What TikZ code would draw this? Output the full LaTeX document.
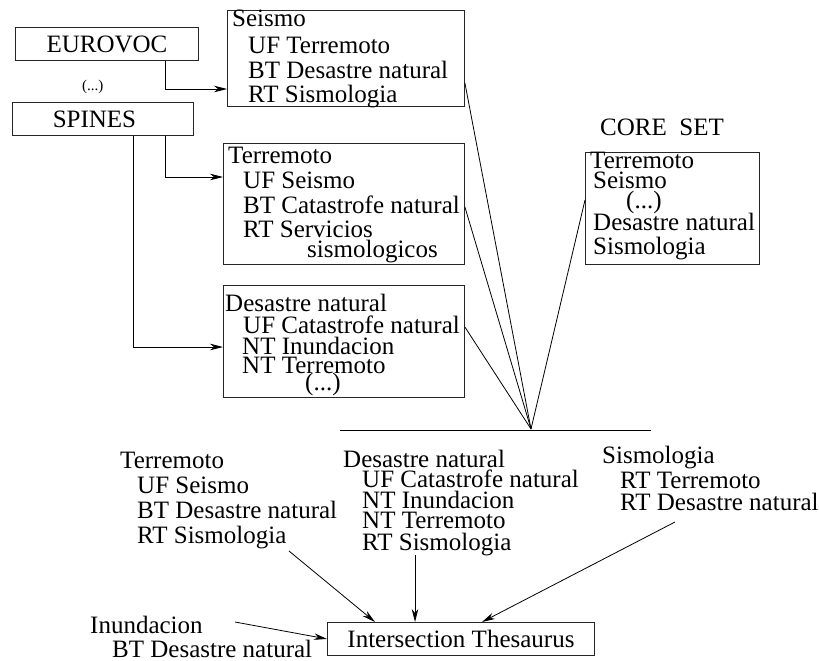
\documentclass[tikz,border=0pt]{standalone}
\usepackage{fontspec}
\setmainfont{Liberation Serif}
\usetikzlibrary{arrows.meta,calc}
\begin{document}
\begin{tikzpicture}[x=1pt,y=-1pt]
\tikzset{
  box/.style={draw=black!85, line width=0.9pt, inner sep=0pt, anchor=north west, font=\fontsize{25}{30}\selectfont},
  ln/.style={anchor=base west, inner sep=0pt, text height=15pt, text depth=3pt, font=\fontsize{25}{30}\selectfont},
  small/.style={anchor=base west, inner sep=0pt, font=\fontsize{15}{18}\selectfont},
  con/.style={line width=0.8pt},
  arr/.style={con, -{Stealth[length=13pt,width=6.5pt,inset=4pt]}},
}
\useasboundingbox (0,0) rectangle (819,661);

% source boxes
\node[box, minimum width=183pt, minimum height=33pt] (eurovoc) at (15,27) {EUROVOC};
\node[small] (dots) at (82,90) {(...)};
\node[box, minimum width=181pt, minimum height=33pt] (spines) at (12,102) {SPINES\hspace*{17pt}};

% term boxes
\node[box, minimum width=237pt, minimum height=96pt] (seis) at (227,10) {};
\node[ln] (s1) at (232,27) {Seismo};
\node[ln] (s2) at (248,53) {UF Terremoto};
\node[ln] (s3) at (248,78) {BT Desastre natural};
\node[ln] (s4) at (248,102) {RT Sismologia};

\node[box, minimum width=241pt, minimum height=121pt] (terr) at (223,143) {};
\node[ln] (t1) at (228,163) {Terremoto};
\node[ln] (t2) at (243,188) {UF Seismo};
\node[ln] (t3) at (243,213) {BT Catastrofe natural};
\node[ln] (t4) at (243,237) {RT Servicios};
\node[ln] (t5) at (307,257) {sismologicos};

\node[box, minimum width=241pt, minimum height=112pt] (desa) at (223,285) {};
\node[ln] (d1) at (225,311) {Desastre natural};
\node[ln] (d2) at (243,333) {UF Catastrofe natural};
\node[ln] (d3) at (242,354) {NT Inundacion};
\node[ln] (d4) at (242,373) {NT Terremoto};
\node[ln] (d5) at (305,390) {(...)};

% core set
\node[ln] (coretitle) at (600,135) {CORE~~SET};
\node[box, minimum width=174pt, minimum height=112pt] (core) at (585,152) {};
\node[ln] (c1) at (590,168) {Terremoto};
\node[ln] (c2) at (593,188) {Seismo};
\node[ln] (c3) at (626,208) {(...)};
\node[ln] (c4) at (593,230) {Desastre natural};
\node[ln] (c5) at (593,254) {Sismologia};

% source connectors
\draw[arr] ([xshift=58.5pt]eurovoc.south) |- (seis.west |- 0,89);
\draw[arr] ([xshift=62.5pt]spines.south) |- (terr.west |- 0,177);
\draw[arr] ([xshift=30.5pt]spines.south) |- (desa.west |- 0,347);

% convergence
\coordinate (conv) at (531,429);
\coordinate (hl) at (340,430);
\coordinate (hr) at (651,430);
\draw[con] (seis.east |- 0,83) -- (conv);
\draw[con] (terr.east |- 0,207) -- (conv);
\draw[con] (desa.east |- 0,327) -- (conv);
\draw[con] (core.west |- 0,200) -- (conv);
\draw[con] (hl) -- (hr);

% bottom blocks
\node[ln] (b1) at (120,468) {Terremoto};
\node[ln] (b2) at (137,493) {UF Seismo};
\node[ln] (b3) at (137,518) {BT Desastre natural};
\node[ln] (b4) at (137,543) {RT Sismologia};

\node[ln] (e1) at (343,467) {Desastre natural};
\node[ln] (e2) at (362,487) {UF Catastrofe natural};
\node[ln] (e3) at (362,508) {NT Inundacion};
\node[ln] (e4) at (362,528) {NT Terremoto};
\node[ln] (e5) at (362,550) {RT Sismologia};

\node[ln] (m1) at (602,463) {Sismologia};
\node[ln] (m2) at (620,488) {RT Terremoto};
\node[ln] (m3) at (620,510) {RT Desastre natural};

\node[ln] (i1) at (90,633) {Inundacion};
\node[ln] (i2) at (112,657) {BT Desastre natural};

\node[box, minimum width=267pt, minimum height=33pt] (inter) at (327,622) {Intersection Thesaurus};

% bottom arrows
\coordinate (a1) at (289,551);
\coordinate (a2) at (415,555);
\coordinate (a3) at (675,522);
\coordinate (a4) at (235,622);
\draw[arr] (a1) -- (inter.north -| 375,0);
\draw[arr] (a2) -- (inter.north -| 415,0);
\draw[arr] (a3) -- (inter.north -| 482,0);
\draw[arr] (a4) -- (inter.west);
\end{tikzpicture}
\end{document}
